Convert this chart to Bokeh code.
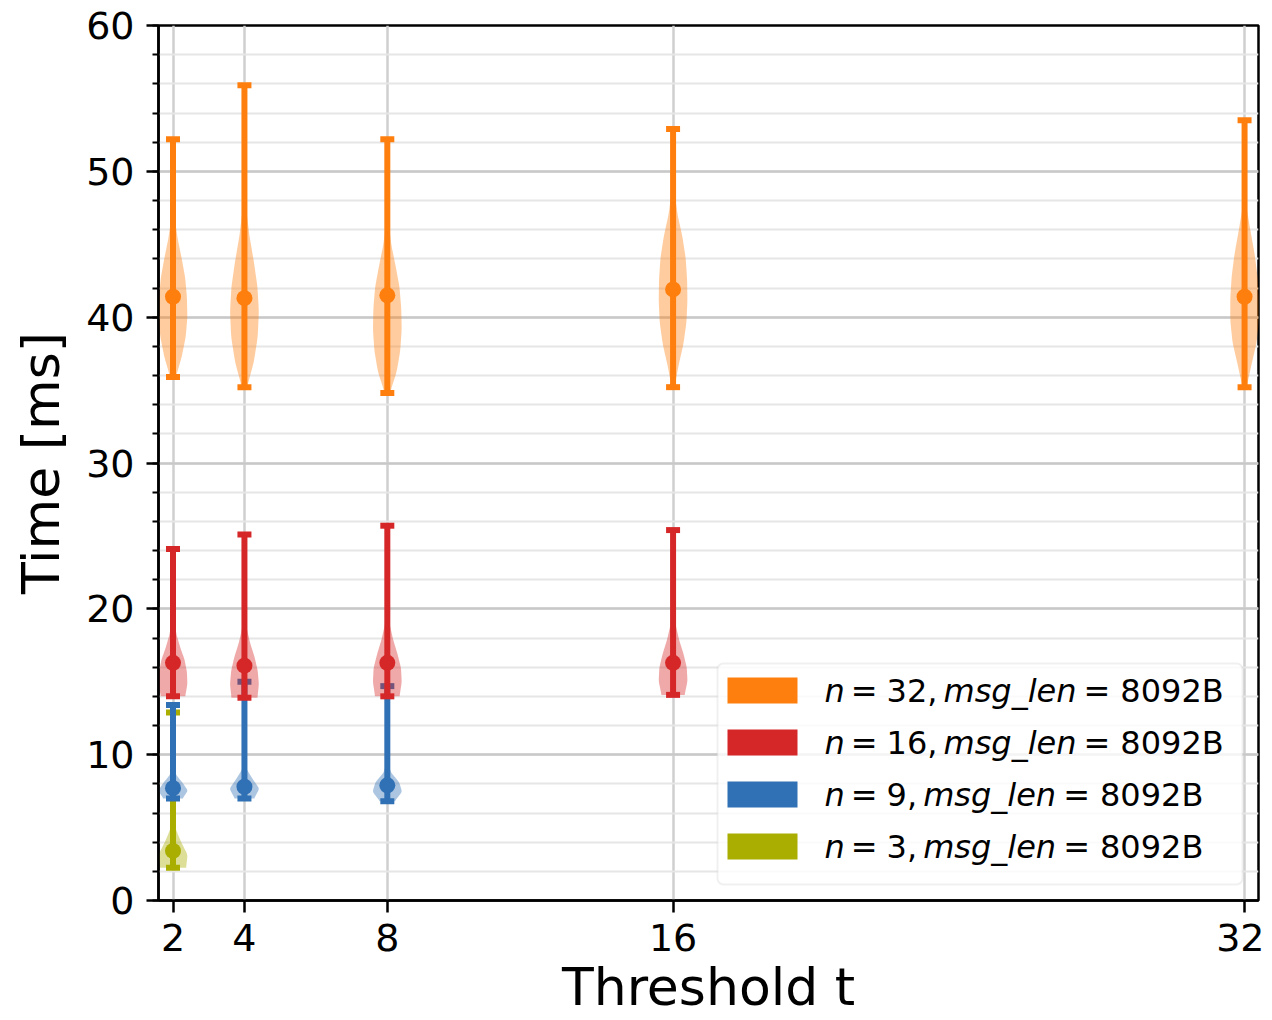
import numpy as np
from bokeh.plotting import figure
from bokeh.models import FixedTicker, Range1d, Label, BoxAnnotation
from bokeh.embed import file_html
from bokeh.resources import INLINE

# ---------------- data ----------------
thresholds = [2, 4, 8, 16, 32]
threshold_labels = ["2", "4", "8", "16", "32"]
y_ticks = [0, 10, 20, 30, 40, 50, 60]
y_minor_ticks = list(range(0, 61, 2))

# n = 3
n3_pos = [2]
n3_min = [2.25]
n3_max = [12.9]
n3_mean = [3.4]
n3_density = [
    [0.9, 1.0, 0.55, 0.18, 0.05, 0.01, 0, 0, 0, 0, 0, 0, 0],
]

# n = 9
n9_pos = [2, 4, 8]
n9_min = [7.0, 7.0, 6.8]
n9_max = [13.4, 15.0, 14.7]
n9_mean = [7.7, 7.8, 7.9]
n9_density = [
    [0.65, 1.0, 0.65, 0.22, 0.06, 0.01, 0, 0, 0, 0, 0, 0, 0],
    [0.65, 1.0, 0.55, 0.15, 0.04, 0.01, 0, 0, 0, 0, 0, 0, 0],
    [0.5, 1.0, 0.8, 0.25, 0.06, 0.01, 0, 0, 0, 0, 0, 0, 0],
]

# n = 16
n16_pos = [2, 4, 8, 16]
n16_min = [14.0, 13.9, 14.0, 14.1]
n16_max = [24.1, 25.1, 25.7, 25.4]
n16_mean = [16.3, 16.1, 16.3, 16.3]
n16_density = [
    [0.85, 1.0, 0.97, 0.8, 0.5, 0.25, 0.11, 0.05, 0.02, 0.01, 0, 0, 0],
    [0.9, 1.0, 0.92, 0.7, 0.4, 0.18, 0.07, 0.03, 0.01, 0, 0, 0, 0],
    [0.85, 1.0, 0.95, 0.7, 0.4, 0.18, 0.07, 0.03, 0.01, 0, 0, 0, 0],
    [0.8, 1.0, 0.95, 0.72, 0.42, 0.2, 0.08, 0.03, 0.01, 0, 0, 0, 0],
]

# n = 32
n32_pos = [2, 4, 8, 16, 32]
n32_min = [35.9, 35.2, 34.8, 35.2, 35.2]
n32_max = [52.2, 55.9, 52.2, 52.9, 53.5]
n32_mean = [41.4, 41.3, 41.5, 41.9, 41.4]
n32_density = [
    [0.2, 0.6, 0.88, 1.0, 0.97, 0.85, 0.6, 0.32, 0.12, 0.05, 0.02, 0.01, 0],
    [0.18, 0.65, 0.92, 1.0, 0.9, 0.65, 0.35, 0.14, 0.05, 0.02, 0.01, 0, 0],
    [0.18, 0.65, 0.9, 1.0, 0.97, 0.85, 0.58, 0.28, 0.1, 0.04, 0.01, 0, 0],
    [0.1, 0.38, 0.72, 0.93, 1.0, 0.98, 0.88, 0.65, 0.32, 0.11, 0.04, 0.01, 0],
    [0.14, 0.48, 0.84, 1.0, 1.0, 0.9, 0.7, 0.42, 0.16, 0.06, 0.02, 0.01, 0],
]

msg_len = "8092B"
colors = {"3": "#a9ae00", "9": "#3070b4", "16": "#d62728", "32": "#ff7f0e"}

series = [
    ("3", n3_pos, n3_min, n3_max, n3_mean, n3_density),
    ("9", n9_pos, n9_min, n9_max, n9_mean, n9_density),
    ("16", n16_pos, n16_min, n16_max, n16_mean, n16_density),
    ("32", n32_pos, n32_min, n32_max, n32_mean, n32_density),
]
legend_order = ["32", "16", "9", "3"]

FONT = "DejaVu Sans"
HALF_WIDTH = 0.4

# ---------------- figure ----------------
p = figure(width=1264, height=1020, output_backend="svg", toolbar_location=None,
           title=None, x_range=Range1d(1.594, 32.39), y_range=Range1d(0, 60),
           min_border_left=158, min_border_right=6, min_border_top=25,
           min_border_bottom=120)
p.background_fill_color = "white"
p.border_fill_color = "white"
p.outline_line_color = "black"
p.outline_line_width = 2.5

# axes
p.xaxis.ticker = FixedTicker(ticks=thresholds, minor_ticks=[])
p.xaxis.major_label_overrides = {t: l for t, l in zip(thresholds, threshold_labels)}
p.yaxis.ticker = FixedTicker(ticks=y_ticks, minor_ticks=y_minor_ticks)
for ax in (p.xaxis[0], p.yaxis[0]):
    ax.axis_line_color = "black"
    ax.axis_line_width = 2.5
    ax.major_tick_line_color = "black"
    ax.major_tick_line_width = 2.5
    ax.major_tick_in = 0
    ax.major_tick_out = 12
    ax.minor_tick_line_color = "black"
    ax.minor_tick_line_width = 2
    ax.minor_tick_in = 0
    ax.minor_tick_out = 6
    ax.major_label_text_font = FONT
    ax.major_label_text_font_size = "38px"
    ax.major_label_text_color = "black"
    ax.axis_label_text_font = FONT
    ax.axis_label_text_font_size = "52px"
    ax.axis_label_text_font_style = "normal"
    ax.axis_label_text_color = "black"
p.xaxis.minor_tick_line_color = None
p.xaxis.major_label_standoff = 11
p.yaxis.major_label_standoff = 12

p.yaxis.axis_label = "Time [ms]"
p.yaxis.axis_label_standoff = 12
p.xaxis.axis_label = "Threshold t"
p.xaxis.axis_label_standoff = 3

# grid
p.xgrid.ticker = FixedTicker(ticks=thresholds)
p.xgrid.grid_line_color = "#cfcfcf"
p.xgrid.grid_line_width = 2.5
p.ygrid.grid_line_color = "#c8c8c8"
p.ygrid.grid_line_width = 2.5
p.ygrid.minor_grid_line_color = "#e6e6e6"
p.ygrid.minor_grid_line_width = 2

# ---------------- violins ----------------
win = np.hanning(13)
win /= win.sum()
for key, pos, lo, hi, mean, dens in series:
    c = colors[key]
    xs, ys = [], []
    for x0, a, b, d in zip(pos, lo, hi, dens):
        d = np.asarray(d, dtype=float)
        yy = np.linspace(a, b, len(d))
        fine = np.linspace(a, b, 200)
        prof = np.interp(fine, yy, d)
        padded = np.concatenate([np.full(6, prof[0]), prof, np.full(6, prof[-1])])
        prof = np.convolve(padded, win, mode="valid")
        w = prof / prof.max() * HALF_WIDTH
        xs.append(list(np.concatenate([x0 - w, (x0 + w)[::-1]])))
        ys.append(list(np.concatenate([fine, fine[::-1]])))
    p.patches(xs=xs, ys=ys, fill_color=c, fill_alpha=0.4, line_color=None)
    p.segment(x0=pos, y0=lo, x1=pos, y1=hi, line_color=c, line_width=6)
    p.rect(x=pos + pos, y=lo + hi, width=14, height=6, width_units="screen",
           height_units="screen", fill_color=c, line_color=None)
    p.scatter(x=pos, y=mean, size=16, marker="circle", fill_color=c, line_color=None)

# ---------------- legend (manual, frame-relative screen units) ----------------
ADV = {'0': .636, '1': .636, '2': .636, '3': .636, '6': .636, '8': .636, '9': .636,
       ',': .318, ' ': .318, '=': .838, 'B': .686, 'n': .634, 'm': .974, 's': .521,
       'g': .635, '_': .5, 'l': .278, 'e': .615}
LEG_FS = 32


def text_w(s):
    return sum(ADV.get(ch, .6) for ch in s) * LEG_FS


p.add_layout(BoxAnnotation(left=559, right=1084, bottom=16, top=237,
                           left_units="screen", right_units="screen",
                           bottom_units="screen", top_units="screen",
                           fill_color="white", fill_alpha=0.8,
                           line_color="#cccccc", line_width=2, border_radius=6))

row_centers = [210, 158, 106, 54]
for row, key in enumerate(legend_order):
    yc = row_centers[row]
    c = colors[key]
    p.add_layout(BoxAnnotation(left=569, right=639, bottom=yc - 13, top=yc + 13,
                               left_units="screen", right_units="screen",
                               bottom_units="screen", top_units="screen",
                               fill_color=c, fill_alpha=1.0, line_color=None))
    parts = [("n", "italic", 6), ("=", "normal", 9), (key + ",", "normal", 6),
             ("msg_len", "italic", 7), ("=", "normal", 10), (msg_len, "normal", 0)]
    x = 666.0
    for txt, style, gap in parts:
        p.add_layout(Label(x=x, y=yc, x_units="screen", y_units="screen", text=txt,
                           text_font=FONT, text_font_size=f"{LEG_FS}px",
                           text_font_style=style, text_color="black",
                           text_baseline="alphabetic", text_align="left"))
        x += text_w(txt) + gap

open("out.html", "w").write(file_html(p, INLINE))
